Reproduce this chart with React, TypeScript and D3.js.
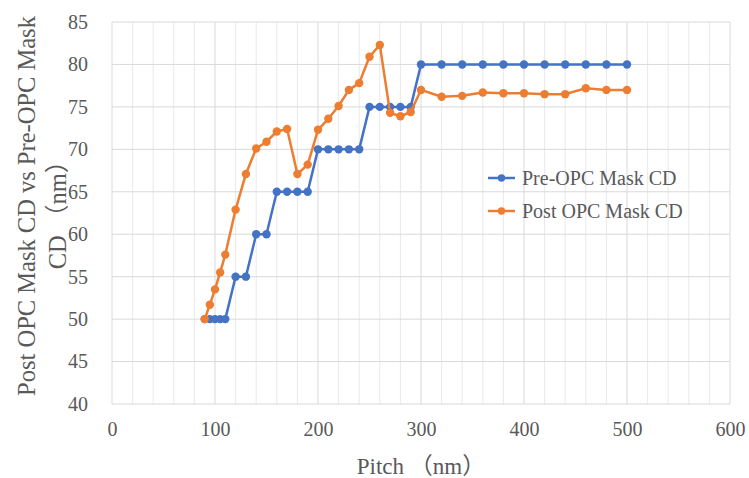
import React, { useEffect, useRef } from 'react';
import * as d3 from 'd3';

const pitch = [90, 95, 100, 105, 110, 120, 130, 140, 150, 160, 170, 180, 190, 200, 210, 220, 230, 240, 250, 260, 270, 280, 290, 300, 320, 340, 360, 380, 400, 420, 440, 460, 480, 500];
const preOpc = [50, 50, 50, 50, 50, 55, 55, 60, 60, 65, 65, 65, 65, 70, 70, 70, 70, 70, 75, 75, 75, 75, 75, 80, 80, 80, 80, 80, 80, 80, 80, 80, 80, 80];
const postOpc = [50, 51.7, 53.5, 55.5, 57.6, 62.9, 67.1, 70.1, 70.9, 72.1, 72.4, 67.1, 68.2, 72.3, 73.6, 75.1, 77.0, 77.8, 80.9, 82.3, 74.3, 73.9, 74.4, 77.0, 76.2, 76.3, 76.7, 76.6, 76.6, 76.5, 76.5, 77.2, 77.0, 77.0];
const seriesNames = ['Pre-OPC Mask CD', 'Post OPC Mask CD'];
const xTicks = [0, 100, 200, 300, 400, 500, 600];
const yTicks = [40, 45, 50, 55, 60, 65, 70, 75, 80, 85];

const W = 749, H = 478;
const margin = { top: 22, right: 19, bottom: 74, left: 112 };
const font = '"Liberation Serif", "Times New Roman", "Noto Sans CJK SC", serif';
const textColor = '#595959';
const colors = ['#4472C4', '#ED7D31'];

export default function App() {
  const ref = useRef<SVGSVGElement>(null);

  useEffect(() => {
    const svg = d3.select(ref.current);
    svg.selectAll('*').remove();
    const width = W - margin.left - margin.right;
    const height = H - margin.top - margin.bottom;

    const x = d3.scaleLinear().domain([0, 600]).range([0, width]);
    const y = d3.scaleLinear().domain([40, 85]).range([height, 0]);

    const g = svg.append('g').attr('transform', `translate(${margin.left},${margin.top})`);

    // minor vertical gridlines every 20
    g.selectAll('line.minor')
      .data(d3.range(20, 600, 20).filter(v => v % 100 !== 0))
      .enter().append('line')
      .attr('x1', d => x(d)).attr('x2', d => x(d))
      .attr('y1', 0).attr('y2', height)
      .style('stroke', '#e9e9e9').style('stroke-width', 1);

    // major gridlines
    g.selectAll('line.vmajor')
      .data(xTicks)
      .enter().append('line')
      .attr('x1', d => x(d)).attr('x2', d => x(d))
      .attr('y1', 0).attr('y2', height)
      .style('stroke', '#d9d9d9').style('stroke-width', 1);
    g.selectAll('line.hmajor')
      .data(yTicks)
      .enter().append('line')
      .attr('x1', 0).attr('x2', width)
      .attr('y1', d => y(d)).attr('y2', d => y(d))
      .style('stroke', '#d9d9d9').style('stroke-width', 1);

    // axes
    const xAxis = g.append('g')
      .attr('transform', `translate(0,${height})`)
      .call(d3.axisBottom(x).tickValues(xTicks).tickSize(0).tickPadding(18));
    xAxis.select('.domain').remove();
    const yAxis = g.append('g')
      .call(d3.axisLeft(y).tickValues(yTicks).tickSize(0).tickPadding(24));
    yAxis.select('.domain').remove();
    svg.selectAll('.tick text')
      .style('font-family', font).style('font-size', '20px').style('fill', textColor);

    // series
    const seriesData = [preOpc, postOpc];
    seriesData.forEach((vals, si) => {
      const pts = pitch.map((p, i) => [p, vals[i]] as [number, number]);
      const line = d3.line<[number, number]>().x(d => x(d[0])).y(d => y(d[1]));
      g.append('path')
        .datum(pts)
        .attr('d', line)
        .attr('fill', 'none')
        .style('stroke', colors[si])
        .style('stroke-width', 2.5)
        .style('stroke-linejoin', 'round');
      g.selectAll(`circle.s${si}`)
        .data(pts)
        .enter().append('circle')
        .attr('class', `s${si}`)
        .attr('cx', d => x(d[0]))
        .attr('cy', d => y(d[1]))
        .attr('r', 4.2)
        .style('fill', colors[si]);
    });

    // legend
    const leg = svg.append('g').attr('transform', 'translate(488,178)');
    seriesNames.forEach((name, i) => {
      const row = leg.append('g').attr('transform', `translate(0,${i * 33})`);
      row.append('line').attr('x1', 0).attr('x2', 27).attr('y1', 0).attr('y2', 0)
        .style('stroke', colors[i]).style('stroke-width', 2.5);
      row.append('circle').attr('cx', 13.5).attr('cy', 0).attr('r', 3.7).style('fill', colors[i]);
      row.append('text').attr('x', 34).attr('y', 7)
        .text(name)
        .style('font-family', font).style('font-size', '20px').style('fill', textColor);
    });

    // axis titles
    svg.append('text')
      .attr('x', margin.left + width / 2).attr('y', 474)
      .attr('text-anchor', 'middle')
      .text('Pitch （nm）')
      .style('font-family', font).style('font-size', '23px').style('fill', textColor);

    const yt = svg.append('text')
      .attr('transform', 'translate(35,206) rotate(-90)')
      .attr('text-anchor', 'middle')
      .style('font-family', font).style('font-size', '24.5px').style('fill', textColor);
    yt.append('tspan').attr('x', 0).attr('y', 0).text('Post OPC Mask CD vs Pre-OPC Mask');
    yt.append('tspan').attr('x', -3).attr('y', 31).text('CD （nm）');
  }, []);

  return (
    <svg ref={ref} width={W} height={H}
      style={{ position: 'absolute', left: 0, top: 0, background: '#fff' }} />
  );
}
